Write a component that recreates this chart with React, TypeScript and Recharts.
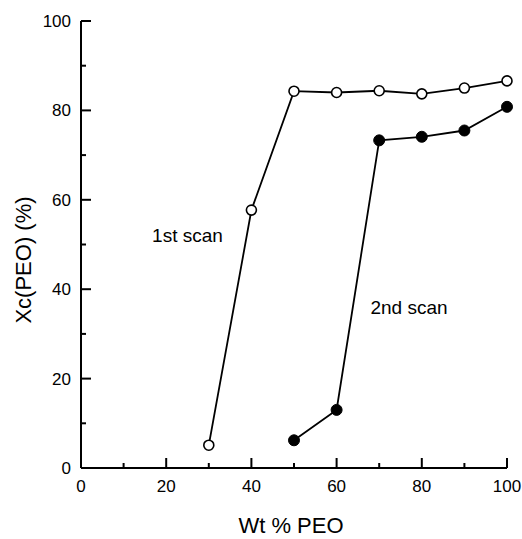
import { Line, LineChart, ReferenceDot, XAxis, YAxis } from "recharts";

const font = "'Liberation Sans', Arial, sans-serif";

// 1st scan (open circles)
const wt1 = [30, 40, 50, 60, 70, 80, 90, 100];
const xc1 = [5.1, 57.7, 84.3, 84.0, 84.4, 83.7, 85.0, 86.6];

// 2nd scan (filled circles)
const wt2 = [50, 60, 70, 80, 90, 100];
const xc2 = [6.2, 13.0, 73.3, 74.1, 75.5, 80.8];

const xTicks = [0, 10, 20, 30, 40, 50, 60, 70, 80, 90, 100];
const yTicks = [0, 10, 20, 30, 40, 50, 60, 70, 80, 90, 100];

const scan1 = wt1.map((x, i) => ({ x, y: xc1[i] }));
const scan2 = wt2.map((x, i) => ({ x, y: xc2[i] }));

function XTick({ x, y, payload }: any) {
  const major = payload.value % 20 === 0;
  return (
    <g>
      <line x1={x} x2={x} y1={y} y2={y - (major ? 10 : 5)} stroke="#000" strokeWidth={2} />
      {major && (
        <text x={x} y={y + 24} textAnchor="middle" fontSize={17} fontFamily={font} fill="#000">
          {payload.value}
        </text>
      )}
    </g>
  );
}

function YTick({ x, y, payload }: any) {
  const major = payload.value % 20 === 0;
  return (
    <g>
      <line x1={x} x2={x + (major ? 10 : 5)} y1={y} y2={y} stroke="#000" strokeWidth={2} />
      {major && (
        <text x={x - 10} y={y + 6} textAnchor="end" fontSize={17} fontFamily={font} fill="#000">
          {payload.value}
        </text>
      )}
    </g>
  );
}

const openDot = { r: 5, fill: "#fff", stroke: "#000", strokeWidth: 1.6 };
const fullDot = { r: 5.5, fill: "#000", stroke: "#000", strokeWidth: 1 };

export default function App() {
  return (
    <div style={{ position: "absolute", left: 0, top: 0, background: "#fff" }}>
      <LineChart width={522} height={539} margin={{ top: 21, right: 15, bottom: 0, left: 0 }}>
        <XAxis
          type="number"
          dataKey="x"
          domain={[0, 100]}
          ticks={xTicks}
          interval={0}
          tickLine={false}
          tickSize={0}
          tickMargin={0}
          tick={<XTick />}
          height={71}
          axisLine={{ stroke: "#000", strokeWidth: 2 }}
          label={{
            content: () => (
              <text x={291} y={533} textAnchor="middle" fontSize={22} fontFamily={font} fill="#000">
                Wt % PEO
              </text>
            ),
          }}
        />
        <XAxis xAxisId="top" orientation="top" type="number" domain={[0, 100]} height={0} tick={false} tickLine={false} axisLine={{ stroke: "#000", strokeWidth: 2 }} />
        <YAxis
          type="number"
          dataKey="y"
          domain={[0, 100]}
          ticks={yTicks}
          interval={0}
          tickLine={false}
          tickSize={0}
          tickMargin={0}
          tick={<YTick />}
          width={81}
          axisLine={{ stroke: "#000", strokeWidth: 2 }}
          label={{
            content: () => (
              <text x={31} y={260} textAnchor="middle" fontSize={22} fontFamily={font} fill="#000" transform="rotate(-90 31 260)">
                Xc(PEO) (%)
              </text>
            ),
          }}
        />
        <YAxis yAxisId="right" orientation="right" type="number" domain={[0, 100]} width={0} tick={false} tickLine={false} axisLine={{ stroke: "#000", strokeWidth: 2 }} />
        <Line data={scan1} dataKey="y" stroke="#000" strokeWidth={1.8} dot={openDot} isAnimationActive={false} />
        <Line data={scan2} dataKey="y" stroke="#000" strokeWidth={1.8} dot={fullDot} isAnimationActive={false} />
        <ReferenceDot x={25} y={52} r={0} stroke="none" label={{ value: "1st scan", position: "center", fontSize: 19, fontFamily: font, fill: "#000" }} />
        <ReferenceDot x={77} y={36} r={0} stroke="none" label={{ value: "2nd scan", position: "center", fontSize: 19, fontFamily: font, fill: "#000" }} />
      </LineChart>
    </div>
  );
}
